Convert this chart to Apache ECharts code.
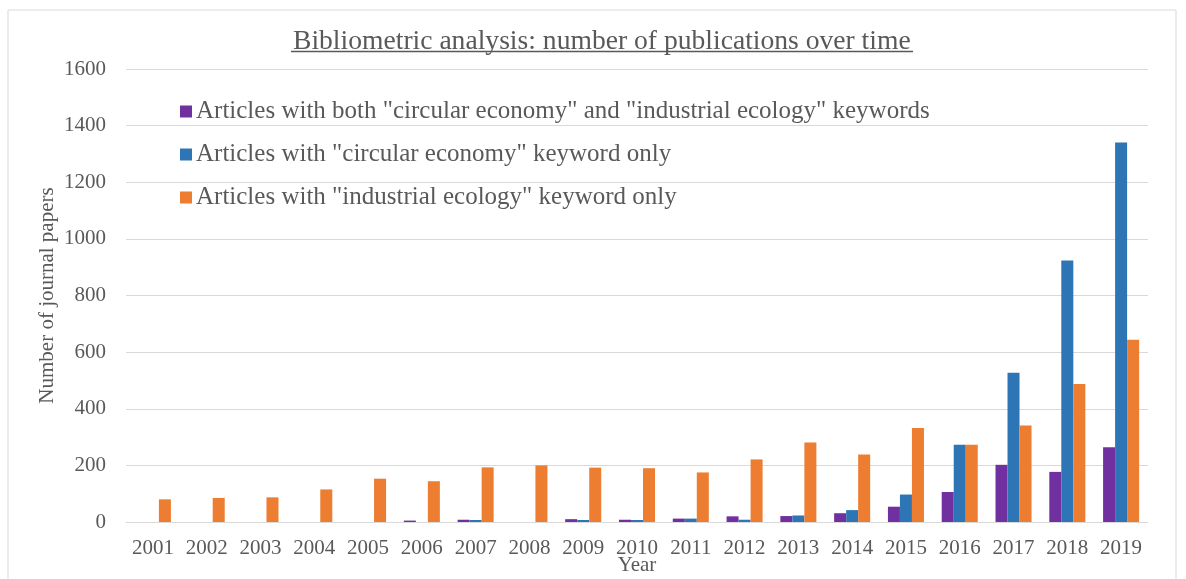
<!DOCTYPE html>
<html><head><meta charset="utf-8">
<script src="https://cdn.jsdelivr.net/npm/echarts@6/dist/echarts.min.js"></script>
<style>html,body{margin:0;padding:0;background:#fff}#c{width:1186px;height:579px}</style>
</head><body><div id="c"></div>
<script>
const years = ['2001','2002','2003','2004','2005','2006','2007','2008','2009','2010','2011','2012','2013','2014','2015','2016','2017','2018','2019'];
const both = [0,0,0,0,0,5,8,0,10,8,12,20,21,31,54,106,202,177,264];
const ceOnly = [0,0,0,0,0,0,7,0,7,7,12,8,23,42,97,273,527,924,1340];
const ieOnly = [80,85,87,115,153,144,193,200,192,190,175,221,281,238,332,273,341,487,644];
const seriesNames = ['Articles with both "circular economy" and "industrial ecology" keywords','Articles with "circular economy" keyword only','Articles with "industrial ecology" keyword only'];
const titleText = 'Bibliometric analysis: number of publications over time';

const chart = echarts.init(document.getElementById('c'));
const font = '"Liberation Serif", "Times New Roman", serif';
const colors = ['#7030A0','#2E75B6','#ED7D31'];
const mk = (name, data, i) => ({name, type:'bar', data, itemStyle:{color:colors[i]}, barGap:'0%', barCategoryGap:'33%'});
chart.setOption({
  animation:false,
  textStyle:{fontFamily:font},
  title:{text:titleText, left:288, top:23, textStyle:{fontFamily:font, fontSize:27.6, fontWeight:'normal', color:'#595959'}},
  graphic:[
    {type:'rect', shape:{x:8,y:10,width:1168,height:575}, style:{fill:'none', stroke:'#d9d9d9', lineWidth:1}, silent:true},
    {type:'line', shape:{x1:291,y1:51.5,x2:913,y2:51.5}, style:{stroke:'#595959', lineWidth:1.5}, silent:true}
  ],
  legend:{orient:'vertical', left:175, top:94, itemGap:18, itemWidth:12, itemHeight:12, icon:'rect',
    textStyle:{fontFamily:font, fontSize:25, color:'#595959', padding:[0,0,0,-1]}},
  grid:{left:126, right:38, top:69, bottom:57, outerBoundsMode:'none', containLabel:false},
  xAxis:{type:'category', data:years, name:'Year', nameLocation:'middle', nameGap:33, nameMoveOverlap:false,
    nameTextStyle:{fontFamily:font, fontSize:21, color:'#595959'},
    axisLine:{lineStyle:{color:'#d9d9d9'}}, axisTick:{show:false},
    axisLabel:{fontFamily:font, fontSize:21, color:'#595959', margin:16, interval:0}},
  yAxis:{type:'value', min:0, max:1600, interval:200, name:'Number of journal papers', nameLocation:'middle', nameGap:68, nameMoveOverlap:false,
    nameTextStyle:{fontFamily:font, fontSize:21, color:'#595959'},
    axisLine:{show:false}, axisTick:{show:false},
    splitLine:{lineStyle:{color:'#d9d9d9'}},
    axisLabel:{fontFamily:font, fontSize:21, color:'#595959', margin:20, formatter:v => String(v)}},
  series:[mk(seriesNames[0], both, 0), mk(seriesNames[1], ceOnly, 1), mk(seriesNames[2], ieOnly, 2)]
});
</script></body></html>
